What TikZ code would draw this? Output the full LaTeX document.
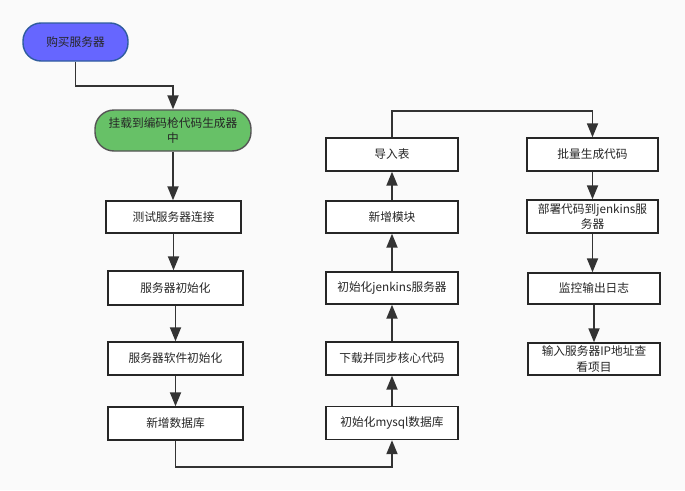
\documentclass[tikz,border=0pt]{standalone}
\usepackage{fontspec}
\setmainfont{Noto Sans CJK SC}
\usetikzlibrary{arrows.meta}
\definecolor{bg}{HTML}{FAFAFA}
\definecolor{txt}{HTML}{262626}
\definecolor{edge}{HTML}{333333}
\definecolor{bluefill}{HTML}{6666FF}
\definecolor{blueline}{HTML}{2F5C9E}
\definecolor{greenfill}{HTML}{67C167}
\definecolor{greenline}{HTML}{555555}
\tikzset{
  stepbox/.style={draw=black!85, line width=1.4pt, fill=white, rectangle,
    minimum width=133pt, minimum height=32pt, inner sep=0pt, align=center,
    text=txt, font=\fontsize{11.7}{15.5}\selectfont},
  pill/.style={rounded corners=16pt, line width=1.4pt, minimum height=38pt,
    inner sep=0pt, align=center, text=txt, font=\fontsize{11.7}{15.5}\selectfont},
  conn/.style={draw=edge, line width=1.8pt, -{Triangle[length=14pt,width=11pt]}},
}
\begin{document}
\begin{tikzpicture}[x=1pt,y=-1pt]
\fill[bg] (0,0) rectangle (685,490);
\useasboundingbox (0,0) rectangle (685,490);
% left column
\node[pill, fill=bluefill, draw=blueline, minimum width=105pt, minimum height=38pt, rounded corners=18pt] (buy) at (75.5,42) {购买服务器};
\node[pill, fill=greenfill, draw=greenline, minimum width=156pt, minimum height=41pt, rounded corners=19pt] (mount) at (173,130.5) {挂载到编码枪代码生成器\\中};
\node[stepbox, minimum width=135pt] (test) at (173.5,217) {测试服务器连接};
\node[stepbox, minimum width=135pt, minimum height=34pt] (init) at (175.5,288) {服务器初始化};
\node[stepbox, minimum width=135pt, minimum height=33pt] (soft) at (175.5,358.5) {服务器软件初始化};
\node[stepbox, minimum width=135pt, minimum height=33pt] (db) at (175.5,423.5) {新增数据库};
% middle column
\node[stepbox, minimum width=132pt, minimum height=33pt] (mysql) at (392,423) {初始化mysql数据库};
\node[stepbox, minimum width=132pt, minimum height=33pt] (sync) at (392,358.5) {下载并同步核心代码};
\node[stepbox, minimum width=132pt, minimum height=32pt] (jenk) at (392,288) {初始化jenkins服务器};
\node[stepbox, minimum width=132pt, minimum height=32pt] (mod) at (392,217) {新增模块};
\node[stepbox, minimum width=132pt, minimum height=33pt] (imp) at (392,154.5) {导入表};
% right column
\node[stepbox, minimum width=131pt, minimum height=33pt] (batch) at (592.5,154.5) {批量生成代码};
\node[stepbox, minimum width=131pt, minimum height=33pt] (deploy) at (592.5,216.5) {部署代码到jenkins服\\务器};
\node[stepbox, minimum width=132pt, minimum height=31pt] (log) at (594,288.5) {监控输出日志};
\node[stepbox, minimum width=132pt, minimum height=32pt] (ip) at (594,359) {输入服务器IP地址查\\看项目};
% connectors
\draw[conn] (buy.south) -- (buy.south |- 0,86) -| (mount.north);
\draw[conn] (mount.south) -- (mount.south |- test.north);
\draw[conn] (test.south) -- (test.south |- init.north);
\draw[conn] (init.south) -- (soft.north);
\draw[conn] (soft.south) -- (db.north);
\draw[conn] (db.south) -- (db.south |- 0,467) -| (mysql.south);
\draw[conn] (mysql.north) -- (sync.south);
\draw[conn] (sync.north) -- (jenk.south);
\draw[conn] (jenk.north) -- (mod.south);
\draw[conn] (mod.north) -- (imp.south);
\draw[conn] (imp.north) -- (imp.north |- 0,111) -| (batch.north);
\draw[conn] (batch.south) -- (batch.south |- deploy.north);
\draw[conn] (deploy.south) -- (deploy.south |- log.north);
\draw[conn] (log.south) -- (ip.north);
\end{tikzpicture}
\end{document}
